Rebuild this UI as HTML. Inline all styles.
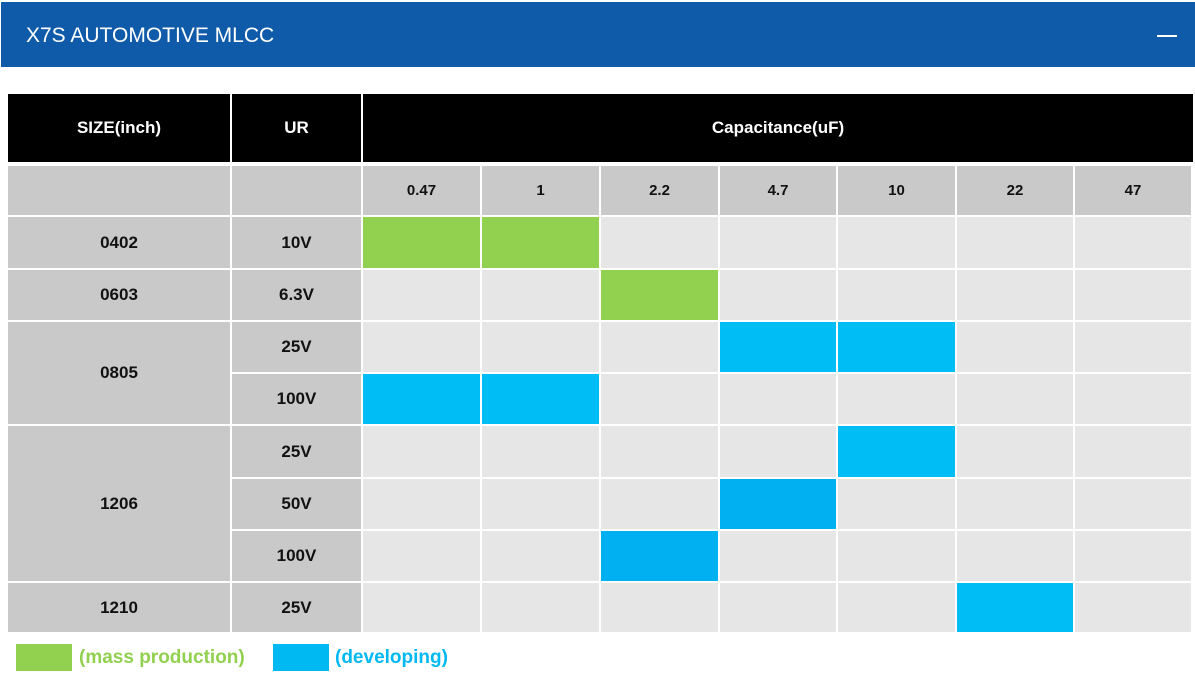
<!DOCTYPE html>
<html><head><meta charset="utf-8">
<style>
body{margin:0;width:1195px;height:679px;background:#fff;position:relative;overflow:hidden;font-family:"Liberation Sans",sans-serif}
.hdr{position:absolute;left:1px;top:2px;width:1194px;height:65px;background:#0f5ba9}
.ttl{position:absolute;left:25px;top:22px;color:#fff;font-size:21px}
.dash{position:absolute;left:1156px;top:33px;width:20px;height:2px;background:#fff}
.c{position:absolute;display:flex;align-items:center;justify-content:center;font-weight:bold;font-size:17px;color:#111;box-sizing:border-box}
</style></head><body>
<div class="hdr">
<div class="ttl">X7S AUTOMOTIVE MLCC</div>
<div class="dash"></div>
</div>
<div id="tbl"></div>
<div class="c" style="left:16px;top:644px;width:56px;height:27px;background:#92d050"></div>
<div class="c" style="left:79px;top:644px;height:27px;color:#92d050;font-size:19px">(mass production)</div>
<div class="c" style="left:273px;top:644px;width:56px;height:27px;background:#00b9f2"></div>
<div class="c" style="left:335px;top:644px;height:27px;color:#00b9f2;font-size:19px">(developing)</div>
<script>
const caps=["0.47","1","2.2","4.7","10","22","47"];
const sizes=["0402","0603","0805","0805","1206","1206","1206","1210"];
const voltages=["10V","6.3V","25V","100V","25V","50V","100V","25V"];
// status per row: index into caps -> 'g' mass production, 'b' developing
const statusRows=[
 {"0.47":"g","1":"g"},
 {"2.2":"g"},
 {"4.7":"b","10":"b"},
 {"0.47":"b","1":"b"},
 {"10":"b"},
 {"4.7":"b"},
 {"2.2":"b"},
 {"22":"b"}
];
const T=document.getElementById('tbl');
const colX=[363,482,601,720,838,957,1075,1193];
const rowY=[217,270,322,374,426,479,531,583,634];
function cell(x,y,w,h,bg,txt,name,color){
 const d=document.createElement('div');d.className='c';
 d.style.cssText=`left:${x}px;top:${y}px;width:${w}px;height:${h}px;background:${bg};`+(color?`color:${color};`:'');
 d.textContent=txt||'';
 
 
 T.appendChild(d);return d;
}
cell(8,94,222,68,'#000','SIZE(inch)','size-header','#fff');
cell(232,94,129,68,'#000','UR','ur-header','#fff');
cell(363,94,830,68,'#000','Capacitance(uF)','capacitance-header','#fff');
cell(8,166,222,49,'#c9c9c9','','blank-header');
cell(232,166,129,49,'#c9c9c9','','blank-header');
caps.forEach((c,i)=>{const d=cell(colX[i],166,colX[i+1]-colX[i]-2,49,'#c9c9c9',c,'cap-col-'+c);d.style.fontSize='15px';});
// size cells (merged)
let i=0;
while(i<sizes.length){let j=i;while(j+1<sizes.length&&sizes[j+1]===sizes[i])j++;
 cell(8,rowY[i],222,rowY[j+1]-rowY[i]-2,'#c9c9c9',sizes[i],'size-'+sizes[i]);i=j+1;}
voltages.forEach((v,r)=>{
 cell(232,rowY[r],129,rowY[r+1]-rowY[r]-2,'#c9c9c9',v,'ur-'+v);
 caps.forEach((c,k)=>{
  const s=statusRows[r][c];
  const bg=s==='g'?'#92d050':s==='b'?(r>=5&&r<=6?'#00b0f0':'#00bdf5'):'#e6e6e6';
  cell(colX[k],rowY[r],colX[k+1]-colX[k]-2,rowY[r+1]-rowY[r]-2,bg,'','cell-'+sizes[r]+'-'+v+'-'+c);
 });
});
</script>
</body></html>
